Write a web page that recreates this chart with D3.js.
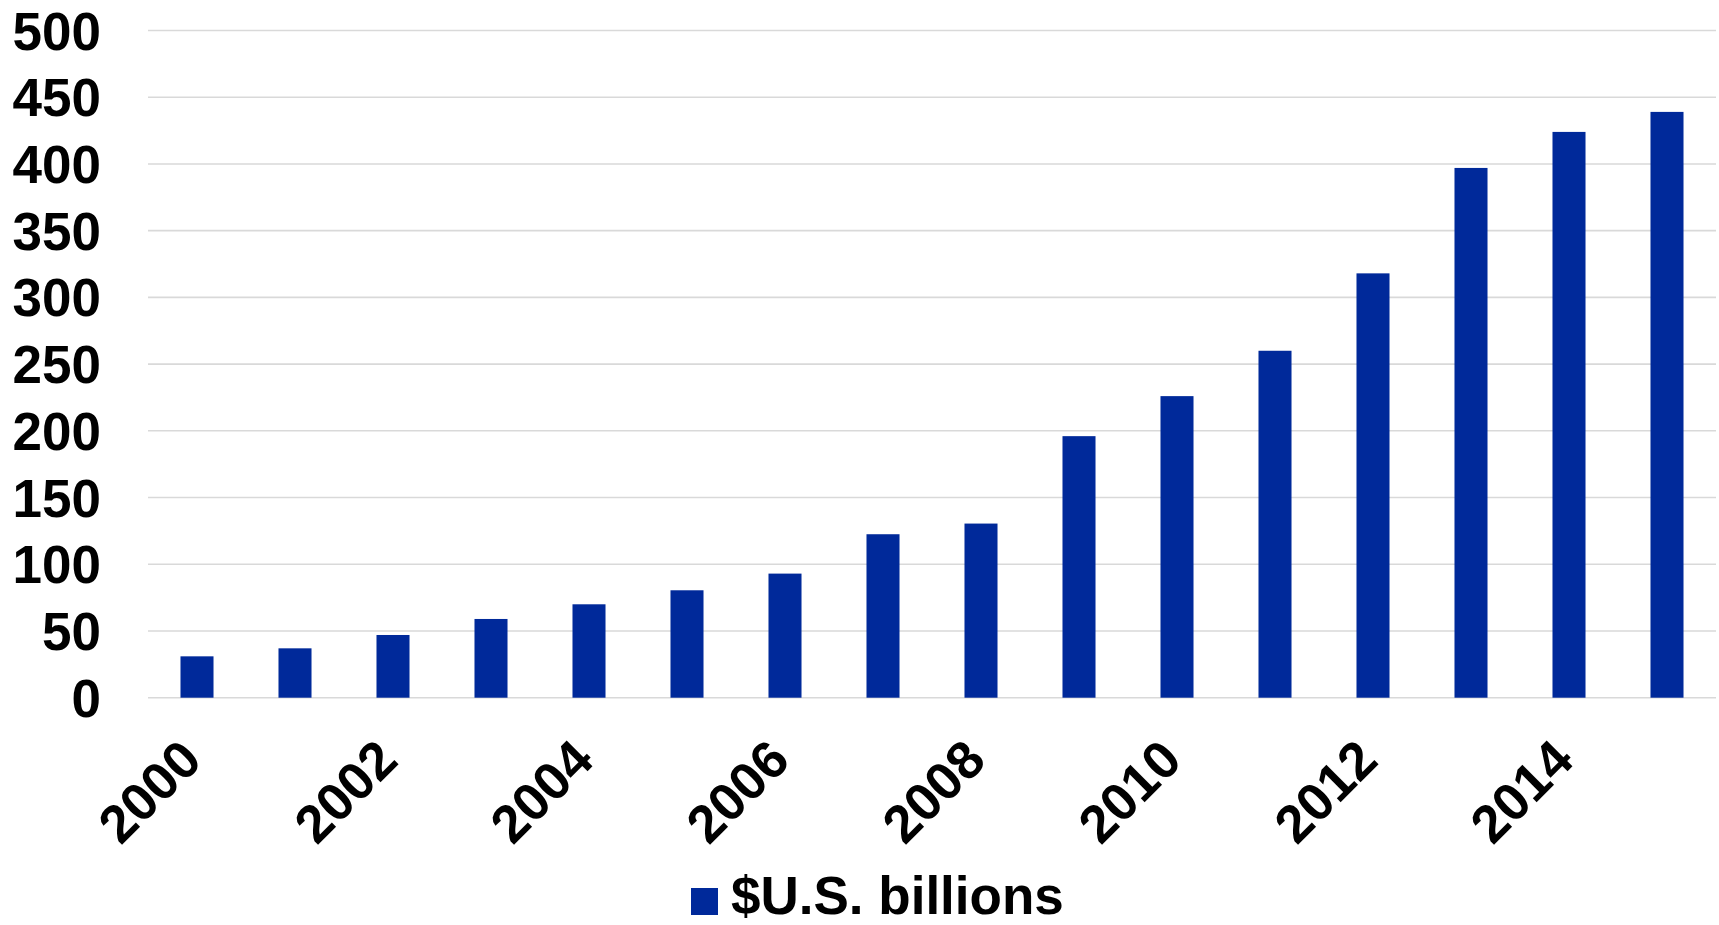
<!DOCTYPE html>
<html>
<head>
<meta charset="utf-8">
<script src="https://cdn.jsdelivr.net/npm/d3@7"></script>
<style>
  html, body { margin: 0; padding: 0; background: #ffffff; }
  svg { display: block; }
  text { font-family: "Liberation Sans", Arial, sans-serif; font-weight: bold; fill: #000; }
</style>
</head>
<body>
<svg id="chart" width="1719" height="925"></svg>
<script>
// Annual values, $U.S. billions
const years = ["2000","2001","2002","2003","2004","2005","2006","2007",
               "2008","2009","2010","2011","2012","2013","2014","2015"];
const values = [31, 37, 47, 59, 70, 80.5, 93, 122.5,
                130.5, 196, 226, 260, 318, 397, 424, 439];
const yTicks = [0, 50, 100, 150, 200, 250, 300, 350, 400, 450, 500];
const xTickLabels = ["2000","2002","2004","2006","2008","2010","2012","2014"];
const seriesName = "$U.S. billions";

const svg = d3.select("#chart");
const margin = { left: 148, right: 3, top: 30.5, bottom: 227.3 };
const W = 1719, H = 925;
const barColor = "#00299a";
const fontSize = 53;

const x = d3.scaleBand()
  .domain(years)
  .range([margin.left, W - margin.right])
  .paddingInner(0.663)
  .paddingOuter(0.663 / 2);

const y = d3.scaleLinear()
  .domain([0, 500])
  .range([H - margin.bottom, margin.top]);

// horizontal gridlines
svg.append("g")
  .selectAll("line")
  .data(yTicks)
  .join("line")
  .attr("x1", margin.left)
  .attr("x2", W - margin.right)
  .attr("y1", d => y(d))
  .attr("y2", d => y(d))
  .attr("stroke", "#d9d9d9")
  .attr("stroke-width", 1.6);

// y-axis labels
const yAxis = d3.axisLeft(y).tickValues(yTicks).tickSize(0).tickPadding(0);
const gy = svg.append("g")
  .attr("transform", `translate(101,0)`)
  .call(yAxis);
gy.select(".domain").remove();
gy.selectAll("text")
  .attr("font-size", fontSize)
  .attr("font-family", "Liberation Sans, Arial, sans-serif")
  .attr("font-weight", "bold")
  .attr("fill", "#000")
  .attr("dy", "0.35em");

// bars
svg.append("g")
  .selectAll("rect")
  .data(years.map((yr, i) => ({ yr, v: values[i] })))
  .join("rect")
  .attr("x", d => x(d.yr))
  .attr("width", x.bandwidth())
  .attr("y", d => y(d.v))
  .attr("height", d => y(0) - y(d.v))
  .attr("fill", barColor);

// x-axis labels, rotated
const xAxis = d3.axisBottom(x).tickValues(xTickLabels).tickSize(0).tickPadding(0);
const gx = svg.append("g")
  .attr("transform", `translate(0,${y(0)})`)
  .call(xAxis);
gx.select(".domain").remove();
gx.selectAll("text")
  .attr("font-size", fontSize)
  .attr("font-family", "Liberation Sans, Arial, sans-serif")
  .attr("font-weight", "bold")
  .attr("fill", "#000")
  .attr("text-anchor", "end")
  .attr("dy", null)
  .attr("y", 0)
  .attr("transform", "translate(7,65) rotate(-45)");

// legend
const legend = svg.append("g");
legend.append("rect")
  .attr("x", 691)
  .attr("y", 888)
  .attr("width", 27)
  .attr("height", 27)
  .attr("fill", barColor);
legend.append("text")
  .attr("x", 731)
  .attr("y", 914)
  .attr("font-size", fontSize)
  .text(seriesName);
</script>
</body>
</html>
